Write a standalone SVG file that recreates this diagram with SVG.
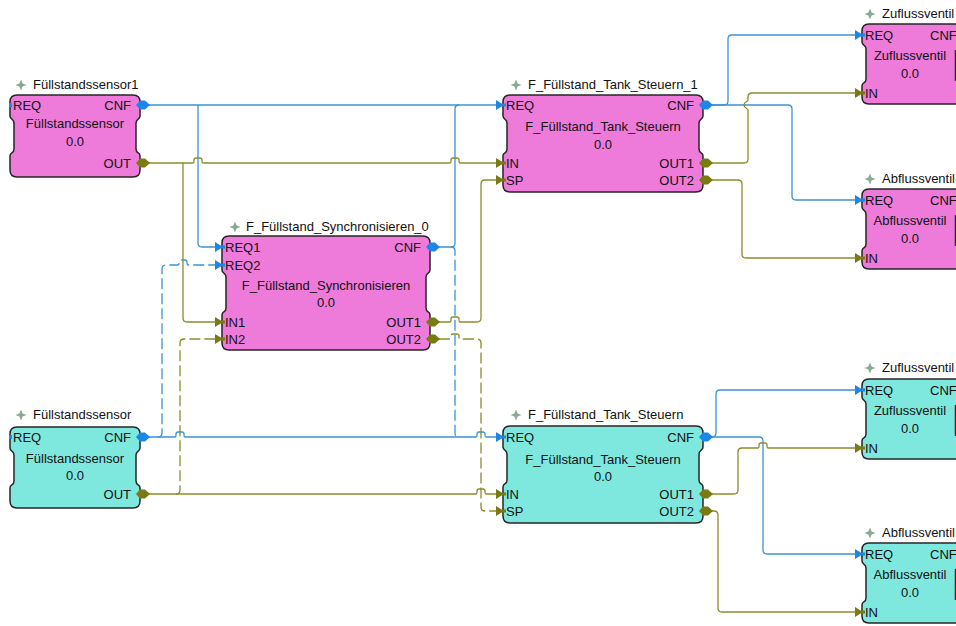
<svg xmlns="http://www.w3.org/2000/svg" width="956" height="626" viewBox="0 0 956 626">
<style>
.t{font-family:"Liberation Sans",Arial,sans-serif;font-size:13px;fill:#111}
.c{text-anchor:middle}.r{text-anchor:end}
.ev{fill:none;stroke:#3a94d2;stroke-width:1.3}
.da{fill:none;stroke:#8c8c2a;stroke-width:1.3}
.dash{stroke-dasharray:11 4}
.pink{fill:#ee7bda;stroke:#262626;stroke-width:1.5}
.cyan{fill:#7ee8de;stroke:#262626;stroke-width:1.5}
</style>
<defs>
<path id="star" d="M0,-5.5 L1.6,-1.6 L5.5,0 L1.6,1.6 L0,5.5 L-1.6,1.6 L-5.5,0 L-1.6,-1.6 Z" fill="#8aa892"/>
<g id="inEv"><polygon points="-7,-5 1,0 -7,5" fill="#1d86e6"/><rect x="0" y="-1.5" width="3" height="3" fill="#1d86e6"/></g>
<g id="inDa"><polygon points="-7,-5 1,0 -7,5" fill="#7a7a12"/><rect x="0" y="-1.5" width="3" height="3" fill="#7a7a12"/></g>
<polygon id="outEv" points="-4,0 0,-4.5 5,-4.5 10,0 5,4.5 0,4.5" fill="#1d86e6"/>
<polygon id="outDa" points="-4,0 0,-4.5 5,-4.5 10,0 5,4.5 0,4.5" fill="#7a7a12"/>
<rect id="ncEv" x="-1" y="-2" width="3" height="4" fill="#1d86e6"/>
</defs>

<g id="connectors">
<path class="ev" d="M149,105 H496"/>
<path class="ev" d="M198,105 V243 Q198,247 202,247 H215"/>
<path class="ev" d="M439,247 H451 Q455,247 455,243 V109 Q455,105 459,105"/>
<path class="ev dash" d="M451,247 Q455,247 455,251 V433 Q455,437 459,437"/>
<path class="ev" d="M149,437 H175 q1,0 1,-2 v-1 q0,-2 2,-2 h4 q2,0 2,2 v1 q0,2 1,2 H476 q1,0 1,-2 v-1 q0,-2 2,-2 h4 q2,0 2,2 v1 q0,2 1,2 H496"/>
<path class="ev dash" d="M158,437 Q162,437 162,433 V269 Q162,265 166,265 H178 q1,0 1,-2 v-1 q0,-2 2,-2 h4 q2,0 2,2 v1 q0,2 1,2 H215"/>
<path class="ev" d="M712,105 H724 Q728,105 728,101 V39 Q728,35 732,35 H855"/>
<path class="ev" d="M712,105 H788 Q792,105 792,109 V196 Q792,200 796,200 H855"/>
<path class="ev" d="M712,437 Q716,437 716,433 V394 Q716,390 720,390 H855"/>
<path class="ev" d="M712,437 H759 Q763,437 763,441 V550 Q763,554 767,554 H855"/>
<path class="da" d="M149,163 H193 q1,0 1,-2 v-1 q0,-2 2,-2 h4 q2,0 2,2 v1 q0,2 1,2 H450 q1,0 1,-2 v-1 q0,-2 2,-2 h4 q2,0 2,2 v1 q0,2 1,2 H496"/>
<path class="da" d="M183,163 V318 Q183,322 187,322 H215"/>
<path class="da" d="M149,494 H476 q1,0 1,-2 v-1 q0,-2 2,-2 h4 q2,0 2,2 v1 q0,2 1,2 H496"/>
<path class="da dash" d="M176,494 Q180,494 180,490 V343 Q180,339 184,339 H215"/>
<path class="da" d="M439,322 H450 q1,0 1,-2 v-1 q0,-2 2,-2 h4 q2,0 2,2 v1 q0,2 1,2 H477 Q481,322 481,318 V184 Q481,180 485,180 H496"/>
<path class="da dash" d="M439,339 H450 q1,0 1,-2 v-1 q0,-2 2,-2 h4 q2,0 2,2 v1 q0,2 1,2 H477 Q481,339 481,343 V507 Q481,511 485,511 H496"/>
<path class="da" d="M712,163 H744 Q748,163 748,159 V110 C748,108 744,109 744,105 C744,101 748,102 748,100 V97 Q748,93 752,93 H855"/>
<path class="da" d="M712,180 H738 Q742,180 742,184 V254 Q742,258 746,258 H855"/>
<path class="da" d="M712,494 H734 Q738,494 738,490 V452 Q738,448 742,448 H758 q1,0 1,-2 v-1 q0,-2 2,-2 h4 q2,0 2,2 v1 q0,2 1,2 H855"/>
<path class="da" d="M712,511 H714 Q718,511 718,515 V608 Q718,612 722,612 H855"/>
</g>

<g id="Fuellstandssensor1">
<use href="#star" x="21" y="85"/>
<text class="t" x="33" y="89">Füllstandssensor1</text>
<path class="pink" d="M17,95 H133 Q140,95 140,102 V116 C140,120 136,118 136,123 V149 C136,154 140,152 140,156 V170 Q140,177 133,177 H17 Q10,177 10,170 V156 C10,152 14,154 14,149 V123 C14,118 10,120 10,116 V102 Q10,95 17,95 Z"/>
<use href="#ncEv" x="10" y="105"/>
<use href="#outEv" x="140" y="105"/>
<use href="#outDa" x="140" y="163"/>
<text class="t" x="13" y="110">REQ</text>
<text class="t r" x="131" y="110">CNF</text>
<text class="t c" x="75" y="128">Füllstandssensor</text>
<text class="t c" x="75" y="146">0.0</text>
<text class="t r" x="131" y="168">OUT</text>
</g>

<g id="F_Fuellstand_Synchronisieren_0">
<use href="#star" x="235" y="227"/>
<text class="t" x="246" y="231">F_Füllstand_Synchronisieren_0</text>
<path class="pink" d="M229,236 H423 Q430,236 430,243 V270 C430,274 426,272 426,277 V308 C426,313 430,311 430,315 V343 Q430,350 423,350 H229 Q222,350 222,343 V315 C222,311 226,313 226,308 V277 C226,272 222,274 222,270 V243 Q222,236 229,236 Z"/>
<use href="#inEv" x="222" y="247"/>
<use href="#inEv" x="222" y="265"/>
<use href="#inDa" x="222" y="322"/>
<use href="#inDa" x="222" y="339"/>
<use href="#outEv" x="430" y="247"/>
<use href="#outDa" x="430" y="322"/>
<use href="#outDa" x="430" y="339"/>
<text class="t" x="225" y="252">REQ1</text>
<text class="t" x="225" y="270">REQ2</text>
<text class="t r" x="421" y="252">CNF</text>
<text class="t c" x="326" y="290">F_Füllstand_Synchronisieren</text>
<text class="t c" x="326" y="307">0.0</text>
<text class="t" x="225" y="327">IN1</text>
<text class="t" x="225" y="344">IN2</text>
<text class="t r" x="421" y="327">OUT1</text>
<text class="t r" x="421" y="344">OUT2</text>
</g>

<g id="F_Fuellstand_Tank_Steuern_1">
<use href="#star" x="516" y="85"/>
<text class="t" x="528" y="89">F_Füllstand_Tank_Steuern_1</text>
<path class="pink" d="M510,95 H696 Q703,95 703,102 V116 C703,120 699,118 699,123 V149 C699,154 703,152 703,156 V185 Q703,192 696,192 H510 Q503,192 503,185 V156 C503,152 507,154 507,149 V123 C507,118 503,120 503,116 V102 Q503,95 510,95 Z"/>
<use href="#inEv" x="503" y="105"/>
<use href="#inDa" x="503" y="163"/>
<use href="#inDa" x="503" y="180"/>
<use href="#outEv" x="703" y="105"/>
<use href="#outDa" x="703" y="163"/>
<use href="#outDa" x="703" y="180"/>
<text class="t" x="506" y="110">REQ</text>
<text class="t r" x="694" y="110">CNF</text>
<text class="t c" x="603" y="131">F_Füllstand_Tank_Steuern</text>
<text class="t c" x="603" y="149">0.0</text>
<text class="t" x="506" y="168">IN</text>
<text class="t" x="506" y="185">SP</text>
<text class="t r" x="694" y="168">OUT1</text>
<text class="t r" x="694" y="185">OUT2</text>
</g>

<g id="Zuflussventil_1">
<use href="#star" x="870" y="14"/>
<text class="t" x="882" y="18">Zuflussventil</text>
<path class="pink" d="M869,24 H970 V104 H869 Q862,104 862,97 V86 C862,82 866,84 866,79 V49 C866,44 862,46 862,42 V31 Q862,24 869,24 Z"/>
<line x1="955.5" y1="50" x2="955.5" y2="81" stroke="#262626" stroke-width="1.5"/>
<use href="#inEv" x="862" y="35"/>
<use href="#inDa" x="862" y="93"/>
<text class="t" x="865" y="40">REQ</text>
<text class="t" x="930" y="40">CNF</text>
<text class="t c" x="910" y="60">Zuflussventil</text>
<text class="t c" x="910" y="78">0.0</text>
<text class="t" x="865" y="98">IN</text>
</g>

<g id="Abflussventil_1">
<use href="#star" x="870" y="179"/>
<text class="t" x="882" y="183">Abflussventil</text>
<path class="pink" d="M869,189 H970 V269 H869 Q862,269 862,262 V251 C862,247 866,249 866,244 V214 C866,209 862,211 862,207 V196 Q862,189 869,189 Z"/>
<line x1="955.5" y1="215" x2="955.5" y2="246" stroke="#262626" stroke-width="1.5"/>
<use href="#inEv" x="862" y="200"/>
<use href="#inDa" x="862" y="258"/>
<text class="t" x="865" y="205">REQ</text>
<text class="t" x="930" y="205">CNF</text>
<text class="t c" x="910" y="225">Abflussventil</text>
<text class="t c" x="910" y="243">0.0</text>
<text class="t" x="865" y="263">IN</text>
</g>

<g id="Fuellstandssensor">
<use href="#star" x="21" y="415"/>
<text class="t" x="33" y="419">Füllstandssensor</text>
<path class="cyan" d="M17,427 H133 Q140,427 140,434 V448 C140,452 136,450 136,455 V481 C136,486 140,484 140,488 V501 Q140,508 133,508 H17 Q10,508 10,501 V488 C10,484 14,486 14,481 V455 C14,450 10,452 10,448 V434 Q10,427 17,427 Z"/>
<use href="#ncEv" x="10" y="437"/>
<use href="#outEv" x="140" y="437"/>
<use href="#outDa" x="140" y="494"/>
<text class="t" x="13" y="442">REQ</text>
<text class="t r" x="131" y="442">CNF</text>
<text class="t c" x="75" y="463">Füllstandssensor</text>
<text class="t c" x="75" y="480">0.0</text>
<text class="t r" x="131" y="499">OUT</text>
</g>

<g id="F_Fuellstand_Tank_Steuern">
<use href="#star" x="516" y="415"/>
<text class="t" x="528" y="419">F_Füllstand_Tank_Steuern</text>
<path class="cyan" d="M510,426 H696 Q703,426 703,433 V447 C703,451 699,449 699,454 V480 C699,485 703,483 703,487 V516 Q703,523 696,523 H510 Q503,523 503,516 V487 C503,483 507,485 507,480 V454 C507,449 503,451 503,447 V433 Q503,426 510,426 Z"/>
<use href="#inEv" x="503" y="437"/>
<use href="#inDa" x="503" y="494"/>
<use href="#inDa" x="503" y="511"/>
<use href="#outEv" x="703" y="437"/>
<use href="#outDa" x="703" y="494"/>
<use href="#outDa" x="703" y="511"/>
<text class="t" x="506" y="442">REQ</text>
<text class="t r" x="694" y="442">CNF</text>
<text class="t c" x="603" y="464">F_Füllstand_Tank_Steuern</text>
<text class="t c" x="603" y="481">0.0</text>
<text class="t" x="506" y="499">IN</text>
<text class="t" x="506" y="516">SP</text>
<text class="t r" x="694" y="499">OUT1</text>
<text class="t r" x="694" y="516">OUT2</text>
</g>

<g id="Zuflussventil">
<use href="#star" x="870" y="368"/>
<text class="t" x="882" y="372">Zuflussventil</text>
<path class="cyan" d="M869,379 H970 V459 H869 Q862,459 862,452 V441 C862,437 866,439 866,434 V404 C866,399 862,401 862,397 V386 Q862,379 869,379 Z"/>
<line x1="955.5" y1="405" x2="955.5" y2="436" stroke="#262626" stroke-width="1.5"/>
<use href="#inEv" x="862" y="390"/>
<use href="#inDa" x="862" y="448"/>
<text class="t" x="865" y="395">REQ</text>
<text class="t" x="930" y="395">CNF</text>
<text class="t c" x="910" y="415">Zuflussventil</text>
<text class="t c" x="910" y="433">0.0</text>
<text class="t" x="865" y="453">IN</text>
</g>

<g id="Abflussventil">
<use href="#star" x="870" y="533"/>
<text class="t" x="882" y="537">Abflussventil</text>
<path class="cyan" d="M869,543 H970 V623 H869 Q862,623 862,616 V605 C862,601 866,603 866,598 V568 C866,563 862,565 862,561 V550 Q862,543 869,543 Z"/>
<line x1="955.5" y1="569" x2="955.5" y2="600" stroke="#262626" stroke-width="1.5"/>
<use href="#inEv" x="862" y="554"/>
<use href="#inDa" x="862" y="612"/>
<text class="t" x="865" y="559">REQ</text>
<text class="t" x="930" y="559">CNF</text>
<text class="t c" x="910" y="579">Abflussventil</text>
<text class="t c" x="910" y="597">0.0</text>
<text class="t" x="865" y="617">IN</text>
</g>
</svg>
